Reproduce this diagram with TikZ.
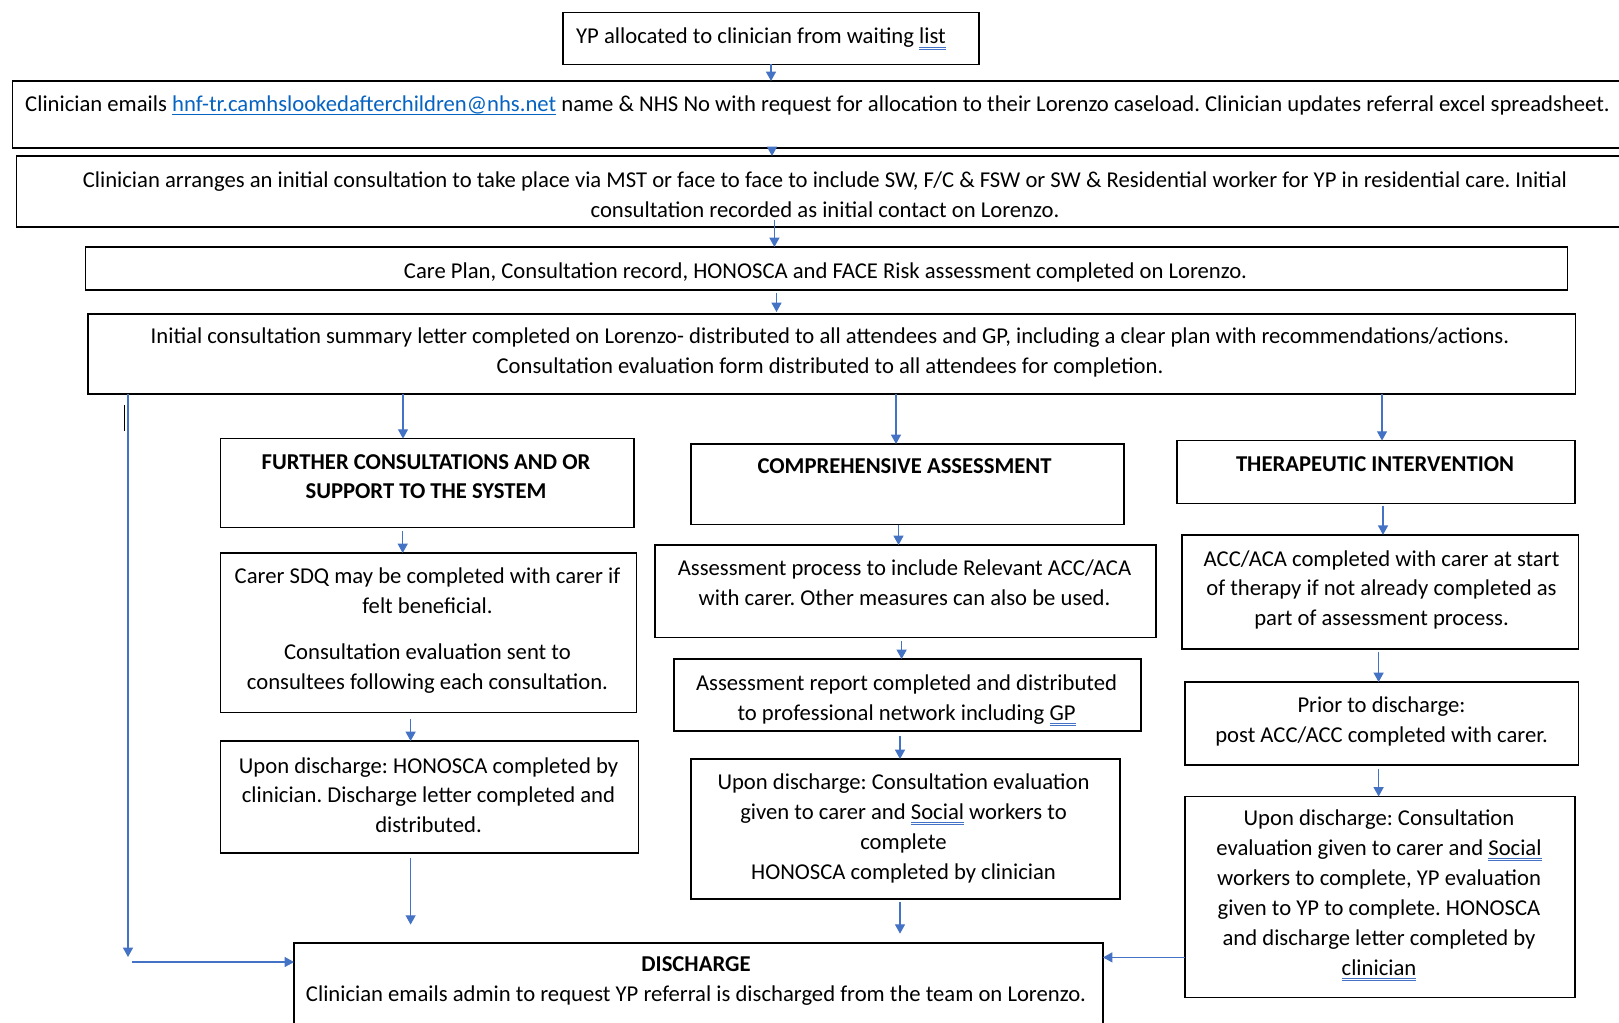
\documentclass[tikz,border=0pt]{standalone}
\usepackage{fontspec}
\setmainfont{Carlito}
\usetikzlibrary{arrows.meta}
\definecolor{arrblue}{HTML}{4472C4}
\definecolor{linkblue}{HTML}{0563C1}
\definecolor{ulblue}{HTML}{4472C4}
\newcommand\dul[1]{\setbox0\hbox{#1}\rlap{{\color{ulblue}\rule[-2.6pt]{\wd0}{0.5pt}}}\rlap{{\color{ulblue}\rule[-3.9pt]{\wd0}{0.5pt}}}\box0\relax}
\newcommand\lnk[1]{\setbox0\hbox{{\color{linkblue}#1}}\rlap{{\color{linkblue}\rule[-2.4pt]{\wd0}{0.7pt}}}\box0\relax}
\newcommand\bx[5]{\node[boxst, minimum width={(#4-#2)*0.75pt}, minimum height={(#5-#3)*0.75pt}] (#1) at ({(#2+#4)/2},{(#3+#5)/2}) {};}
\begin{document}
\begin{tikzpicture}[x=0.75pt, y=-0.75pt,
  boxst/.style={draw=black, line width=1.1pt, inner sep=0pt, outer sep=0pt},
  txt/.style={align=center, inner sep=0pt, font=\fontsize{17}{22.4}\selectfont\frenchspacing, execute at begin node=\strut, execute at end node=\strut},
  arr/.style={draw=arrblue, line width=0.9pt, -{Triangle[length=7pt, width=7.5pt]}}]
\clip (0,0) rectangle (1619,1022);
% boxes
\bx{b1}{563}{12.7}{979}{64.3}
\bx{b2}{12.4}{81}{1640}{148}
\bx{b3}{16.5}{156}{1640}{227}
\bx{b4}{85.7}{247}{1567.4}{290}
\bx{b5}{87.8}{314}{1575.6}{394}
\bx{f1}{220.7}{438.6}{634}{527.4}
\bx{f2}{220.7}{553}{636.5}{712.5}
\bx{f3}{220.7}{741}{638.6}{853}
\bx{c1}{691}{444}{1124}{524.6}
\bx{c2}{655}{545}{1156}{637.6}
\bx{c3}{674}{659}{1141}{731}
\bx{c4}{691}{759}{1120}{899}
\bx{r1}{1177}{440.6}{1575}{503.7}
\bx{r2}{1182}{534.8}{1578.5}{649}
\bx{r3}{1185}{682}{1578.5}{765}
\bx{r4}{1185}{796.5}{1575}{997.5}
\bx{d}{294}{943}{1103}{1040}
% texts
\node[txt] (t1) at (761,38) {YP allocated to clinician from waiting \dul{list}};
\node[txt] (t2) at (817.5,106) {Clinician emails \lnk{hnf-tr.camhslookedafterchildren@nhs.net} name \& NHS No with request for allocation to their Lorenzo caseload. Clinician updates referral excel spreadsheet.};
\node[txt] (t3) at (825,199.3) {Clinician arranges an initial consultation to take place via MST or face to face to include SW, F/C \& FSW or SW \& Residential worker for YP in residential care. Initial\\consultation recorded as initial contact on Lorenzo.};
\node[txt] (t4) at (825.5,272.5) {Care Plan, Consultation record, HONOSCA and FACE Risk assessment completed on Lorenzo.};
\node[txt] (t5) at (830,355) {Initial consultation summary letter completed on Lorenzo- distributed to all attendees and GP, including a clear plan with recommendations/actions.\\Consultation evaluation form distributed to all attendees for completion.};
\node[txt] (tf1) at (426,481) {\textbf{FURTHER CONSULTATIONS AND OR}\\\textbf{SUPPORT TO THE SYSTEM}};
\node[txt] (tf2) at (427.5,633.2) {Carer SDQ may be completed with carer if\\felt beneficial.\\[12pt]Consultation evaluation sent to\\consultees following each consultation.};
\node[txt] (tf3) at (428.5,799.5) {Upon discharge: HONOSCA completed by\\clinician. Discharge letter completed and\\distributed.};
\node[txt] (tc1) at (904.5,467.7) {\textbf{COMPREHENSIVE ASSESSMENT}};
\node[txt] (tc2) at (904.5,587.5) {Assessment process to include Relevant ACC/ACA\\with carer. Other measures can also be used.};
\node[txt] (tc3) at (906.5,702) {Assessment report completed and distributed\\to professional network including \dul{GP}};
\node[txt] (tc4) at (903.5,831) {Upon discharge: Consultation evaluation\\given to carer and \dul{Social} workers to\\complete\\HONOSCA completed by clinician};
\node[txt] (tr1) at (1375,465.6) {\textbf{THERAPEUTIC INTERVENTION}};
\node[txt] (tr2) at (1381.5,592.5) {ACC/ACA completed with carer at start\\of therapy if not already completed as\\part of assessment process.};
\node[txt] (tr3) at (1381.5,724.5) {Prior to discharge:\\post ACC/ACC completed with carer.};
\node[txt] (tr4) at (1379,897) {Upon discharge: Consultation\\evaluation given to carer and \dul{Social}\\workers to complete, YP evaluation\\given to YP to complete. HONOSCA\\and discharge letter completed by\\\dul{clinician}};
\node[txt] (td) at (696,983.9) {\textbf{DISCHARGE}\\Clinician emails admin to request YP referral is discharged from the team on Lorenzo.};
% connectors
\draw[arr] (771,0 |- b1.south) -- (771,0 |- b2.north);
\draw[arr, shorten <=-3pt] (772,0 |- b2.south) -- (772,0 |- b3.north);
\draw[arr, shorten <=-5pt] (774.4,0 |- b3.south) -- (774.4,0 |- b4.north);
\draw[arr, shorten <=2pt, shorten >=1.5pt] (776.5,0 |- b4.south) -- (776.5,0 |- b5.north);
\draw[arr] (403,0 |- b5.south) -- (403,0 |- f1.north);
\draw[arr] (896,0 |- b5.south) -- (896,0 |- c1.north);
\draw[arr] (1382,0 |- b5.south) -- (1382,0 |- r1.north);
\draw[arr, shorten <=3pt] (402.7,0 |- f1.south) -- (402.7,0 |- f2.north);
\draw[arr, shorten <=4.9pt] (410.6,0 |- f2.south) -- (410.6,0 |- f3.north);
\draw[arr, shorten <=3.75pt, shorten >=13.8pt] (410.6,0 |- f3.south) -- (410.6,0 |- d.north);
\draw[arr] (898.5,0 |- c1.south) -- (898.5,0 |- c2.north);
\draw[arr, shorten <=2.5pt] (901.6,0 |- c2.south) -- (901.6,0 |- c3.north);
\draw[arr, shorten <=3.75pt] (900,0 |- c3.south) -- (900,0 |- c4.north);
\draw[arr, shorten <=2.6pt, shorten >=7pt] (900,0 |- c4.south) -- (900,0 |- d.north);
\draw[arr, shorten <=1.7pt] (1383,0 |- r1.south) -- (1383,0 |- r2.north);
\draw[arr, shorten <=2.2pt] (1378.6,0 |- r2.south) -- (1378.6,0 |- r3.north);
\draw[arr, shorten <=3pt] (1378.6,0 |- r3.south) -- (1378.6,0 |- r4.north);
\draw[arr] (r4.west |- 0,957.4) -- (d.east |- 0,957.4);
\coordinate (cl) at (128,957);
\coordinate (cl2) at (132,962);
\draw[arr] (128,0 |- b5.south) -- (cl);
\draw[arr] (cl2) -- (d.west |- cl2);
\draw[line width=1.3pt] (124.5,405) -- (124.5,431);
\end{tikzpicture}
\end{document}
